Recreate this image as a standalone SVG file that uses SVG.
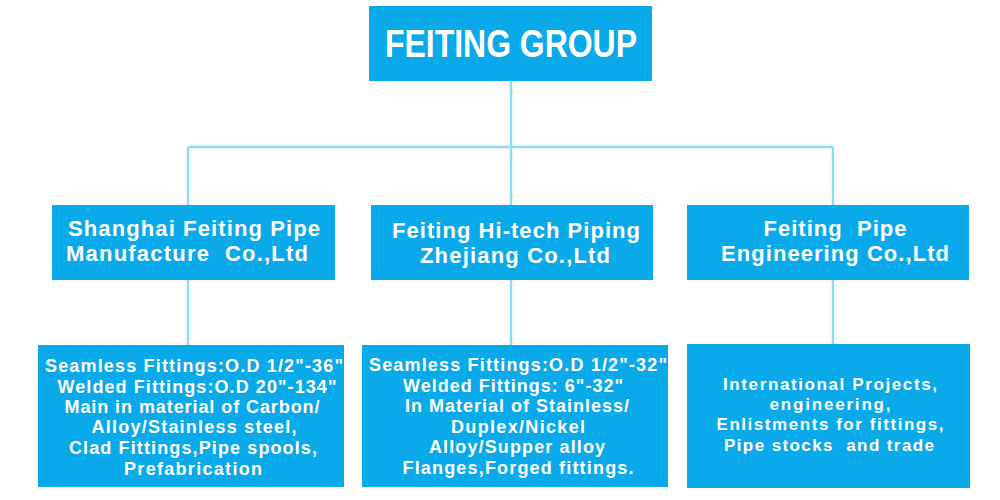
<svg xmlns="http://www.w3.org/2000/svg" width="1000" height="500" viewBox="0 0 1000 500">
<style>
.box{fill:#0AA9EA;}
.t{font-family:"Liberation Sans",Arial,sans-serif;font-weight:bold;fill:#ffffff;text-anchor:middle;white-space:pre;}
.h{font-size:22px;}
.b{font-size:18px;}
.s{font-size:17px;}
.c{fill:none;stroke:#8EDCF4;stroke-width:2.5;}
</style>
<rect width="1000" height="500" fill="#ffffff"/>
<g id="connectors">
<path class="c" d="M511 81 V147 M188 147 H833 M188 147 V205 M511 147 V205 M833 147 V205 M188 280 V345 M511 280 V345 M833 280 V345"/>
</g>
<g id="root">
<rect class="box" x="369" y="6" width="283" height="75"/>
<text class="t" x="511" y="57" font-size="38" textLength="252" lengthAdjust="spacingAndGlyphs">FEITING GROUP</text>
</g>
<g id="shanghai">
<rect class="box" x="52" y="205" width="283" height="75"/>
<text class="t h" x="194" y="236" textLength="252" lengthAdjust="spacing">Shanghai Feiting Pipe</text>
<text class="t h" x="187" y="261" textLength="242" lengthAdjust="spacing" xml:space="preserve">Manufacture  Co.,Ltd</text>
</g>
<g id="zhejiang">
<rect class="box" x="371" y="205" width="282" height="75"/>
<text class="t h" x="516" y="238" textLength="248" lengthAdjust="spacing">Feiting Hi-tech Piping</text>
<text class="t h" x="515" y="263" textLength="190" lengthAdjust="spacing">Zhejiang Co.,Ltd</text>
</g>
<g id="engineering">
<rect class="box" x="687" y="205" width="282" height="75"/>
<text class="t h" x="835" y="236" textLength="143" lengthAdjust="spacing" xml:space="preserve">Feiting  Pipe</text>
<text class="t h" x="835" y="261" textLength="228" lengthAdjust="spacing">Engineering Co.,Ltd</text>
</g>
<g id="shanghai-detail">
<rect class="box" x="38" y="345" width="306" height="142"/>
<text class="t b" x="194" y="372" textLength="298" lengthAdjust="spacing">Seamless Fittings:O.D 1/2"-36"</text>
<text class="t b" x="197" y="393" textLength="279" lengthAdjust="spacing">Welded Fittings:O.D 20"-134"</text>
<text class="t b" x="192" y="413" textLength="255" lengthAdjust="spacing">Main in material of Carbon/</text>
<text class="t b" x="194" y="433" textLength="205" lengthAdjust="spacing">Alloy/Stainless steel,</text>
<text class="t b" x="193" y="454" textLength="248" lengthAdjust="spacing">Clad Fittings,Pipe spools,</text>
<text class="t b" x="193" y="475" textLength="138" lengthAdjust="spacing">Prefabrication</text>
</g>
<g id="zhejiang-detail">
<rect class="box" x="362" y="345" width="306" height="142"/>
<text class="t b" x="518" y="371" textLength="298" lengthAdjust="spacing">Seamless Fittings:O.D 1/2"-32"</text>
<text class="t b" x="513" y="392" textLength="220" lengthAdjust="spacing">Welded Fittings: 6"-32"</text>
<text class="t b" x="517" y="412" textLength="224" lengthAdjust="spacing">In Material of Stainless/</text>
<text class="t b" x="518" y="433" textLength="134" lengthAdjust="spacing">Duplex/Nickel</text>
<text class="t b" x="517" y="453" textLength="176" lengthAdjust="spacing">Alloy/Supper alloy</text>
<text class="t b" x="518" y="474" textLength="231" lengthAdjust="spacing">Flanges,Forged fittings.</text>
</g>
<g id="engineering-detail">
<rect class="box" x="687" y="344" width="283" height="144"/>
<text class="t s" x="830" y="390" textLength="214" lengthAdjust="spacing">International Projects,</text>
<text class="t s" x="830" y="410" textLength="121" lengthAdjust="spacing">engineering,</text>
<text class="t s" x="830" y="430" textLength="227" lengthAdjust="spacing">Enlistments for fittings,</text>
<text class="t s" x="829" y="451" textLength="210" lengthAdjust="spacing" xml:space="preserve">Pipe stocks  and trade</text>
</g>
</svg>
